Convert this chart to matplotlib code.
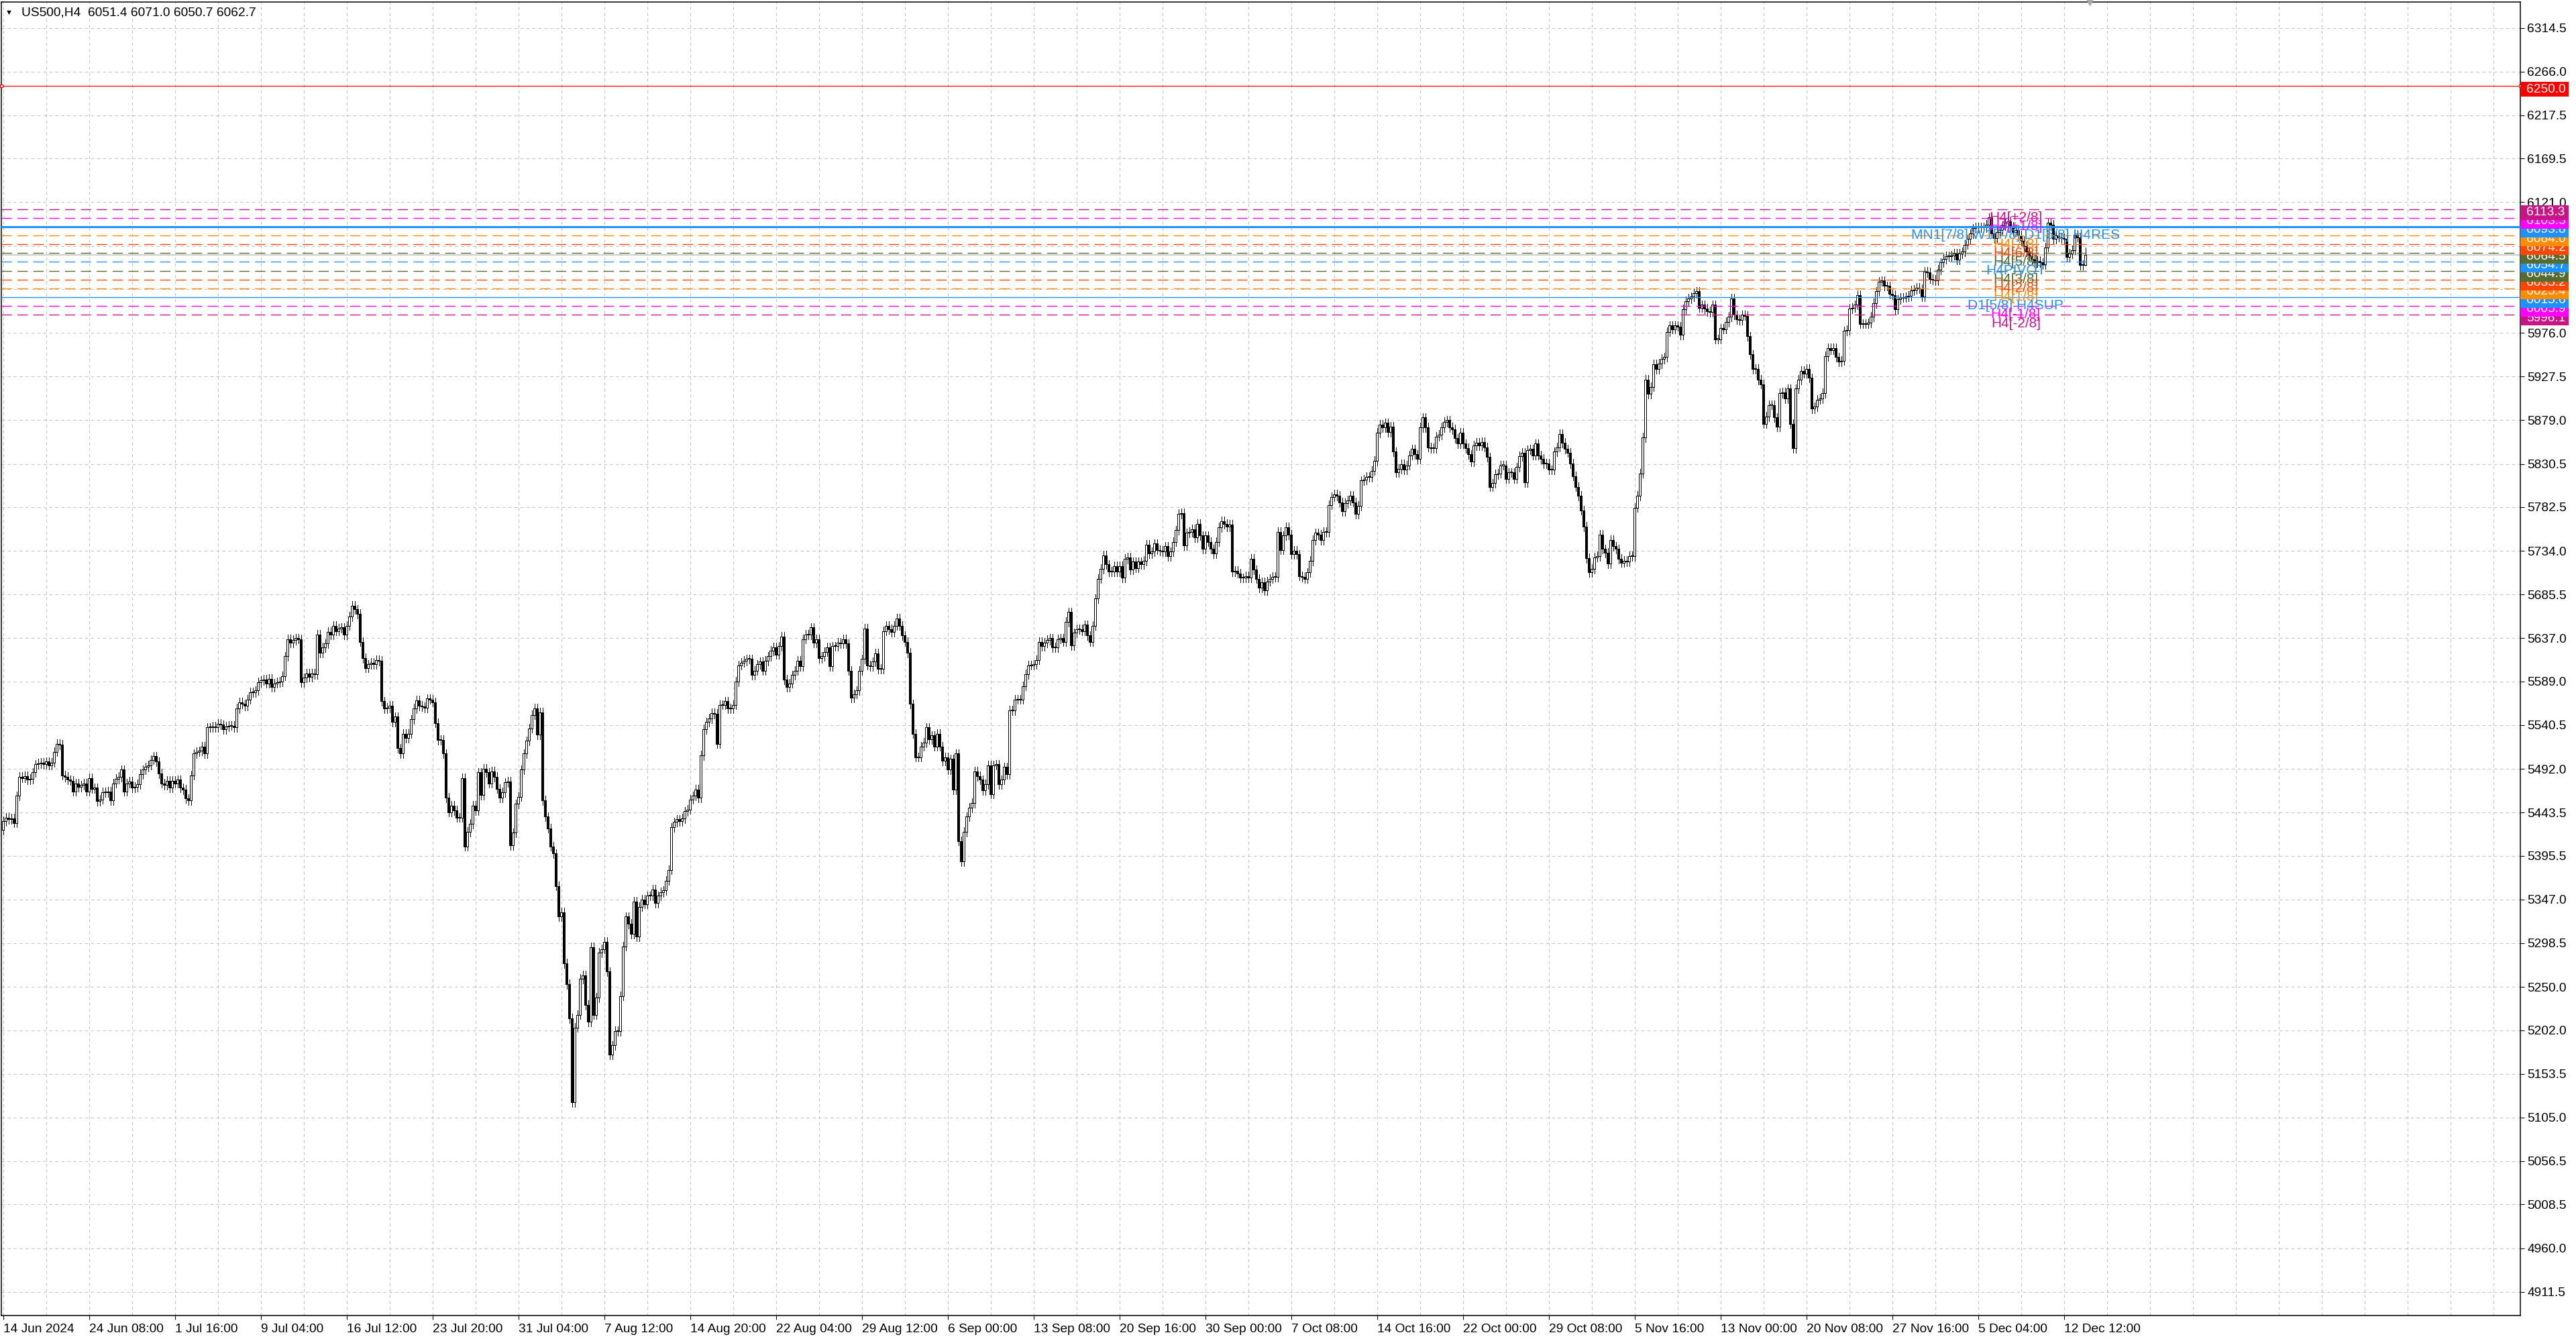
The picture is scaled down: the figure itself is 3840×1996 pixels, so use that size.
import matplotlib
matplotlib.use("Agg")
import matplotlib.pyplot as plt
import matplotlib.transforms as mtrans
from matplotlib.patches import Rectangle
from matplotlib.ticker import MultipleLocator
import numpy as np

# header of the chart
symbol = "US500,H4"
last_ohlc = [6051.4, 6071.0, 6050.7, 6062.7]
first_open = 5424.0

# H4 closes (14 Jun 2024 -> 13 Dec 2024)
closes = [
    5434, 5438, 5436, 5437, 5432, 5462, 5483, 5482, 5484, 5480, 5481, 5488, 5497, 5498, 5499, 5497,
    5500, 5496, 5499, 5511, 5520, 5519, 5485, 5483, 5480, 5479, 5467, 5476, 5472, 5474, 5476, 5467,
    5482, 5470, 5471, 5456, 5458, 5466, 5466, 5467, 5457, 5476, 5481, 5483, 5491, 5467, 5476, 5478,
    5471, 5472, 5475, 5486, 5491, 5494, 5496, 5502, 5506, 5500, 5487, 5476, 5474, 5479, 5471, 5479,
    5476, 5480, 5471, 5469, 5459, 5457, 5485, 5509, 5511, 5512, 5517, 5509, 5538, 5538, 5539, 5538,
    5542, 5541, 5536, 5539, 5540, 5540, 5538, 5559, 5566, 5564, 5562, 5569, 5577, 5577, 5579, 5588,
    5590, 5591, 5587, 5592, 5583, 5587, 5588, 5589, 5595, 5617, 5636, 5632, 5635, 5637, 5636, 5588,
    5593, 5598, 5594, 5598, 5597, 5641, 5621, 5627, 5631, 5644, 5641, 5651, 5645, 5648, 5649, 5641,
    5651, 5661, 5673, 5669, 5664, 5633, 5615, 5604, 5608, 5610, 5608, 5613, 5612, 5567, 5559, 5560,
    5562, 5544, 5550, 5515, 5509, 5531, 5526, 5531, 5547, 5559, 5568, 5562, 5561, 5560, 5570, 5569,
    5566, 5543, 5524, 5524, 5509, 5460, 5444, 5451, 5446, 5438, 5438, 5482, 5406, 5422, 5431, 5451,
    5446, 5488, 5463, 5492, 5488, 5476, 5489, 5483, 5470, 5460, 5466, 5477, 5478, 5407, 5421, 5453,
    5461, 5491, 5509, 5523, 5537, 5552, 5559, 5530, 5555, 5457, 5439, 5426, 5406, 5398, 5362, 5328,
    5333, 5276, 5253, 5215, 5122, 5205, 5219, 5259, 5263, 5230, 5211, 5294, 5219, 5238, 5288, 5292,
    5300, 5267, 5175, 5185, 5201, 5201, 5240, 5295, 5328, 5320, 5309, 5345, 5306, 5339, 5347, 5342,
    5351, 5351, 5358, 5343, 5351, 5355, 5357, 5368, 5380, 5427, 5433, 5436, 5434, 5437, 5445, 5447,
    5458, 5462, 5469, 5460, 5507, 5536, 5544, 5548, 5554, 5553, 5520, 5563, 5563, 5567, 5559, 5559,
    5563, 5589, 5607, 5610, 5612, 5614, 5614, 5596, 5601, 5608, 5611, 5601, 5612, 5617, 5623, 5627,
    5619, 5628, 5639, 5591, 5583, 5587, 5596, 5601, 5612, 5606, 5636, 5641, 5641, 5649, 5632, 5636,
    5615, 5617, 5622, 5627, 5606, 5628, 5628, 5632, 5631, 5636, 5631, 5601, 5571, 5575, 5579, 5601,
    5614, 5648, 5607, 5606, 5611, 5620, 5603, 5603, 5645, 5651, 5647, 5644, 5651, 5659, 5651, 5640,
    5633, 5621, 5564, 5531, 5505, 5505, 5517, 5521, 5538, 5525, 5529, 5517, 5531, 5517, 5501, 5505,
    5491, 5503, 5469, 5509, 5412, 5389, 5422, 5439, 5449, 5454, 5489, 5484, 5480, 5468, 5475, 5496,
    5464, 5496, 5497, 5475, 5480, 5494, 5486, 5557, 5557, 5569, 5569, 5569, 5584, 5597, 5607, 5607,
    5608, 5613, 5633, 5628, 5632, 5635, 5637, 5627, 5627, 5636, 5637, 5633, 5655, 5666, 5629, 5643,
    5647, 5647, 5645, 5652, 5640, 5633, 5651, 5681, 5703, 5714, 5729, 5719, 5711, 5711, 5717, 5711,
    5717, 5704, 5725, 5727, 5713, 5722, 5715, 5722, 5719, 5723, 5741, 5731, 5733, 5742, 5735, 5734,
    5733, 5739, 5728, 5733, 5744, 5757, 5775, 5776, 5740, 5754, 5755, 5758, 5749, 5764, 5751, 5736,
    5751, 5744, 5736, 5731, 5744, 5760, 5767, 5764, 5761, 5763, 5711, 5712, 5709, 5704, 5704, 5706,
    5704, 5725, 5713, 5703, 5693, 5699, 5690, 5700, 5703, 5705, 5705, 5755, 5735, 5751, 5760, 5752,
    5730, 5734, 5730, 5706, 5705, 5703, 5710, 5723, 5746, 5754, 5752, 5746, 5755, 5755, 5785, 5794,
    5797, 5795, 5788, 5778, 5787, 5790, 5795, 5788, 5775, 5784, 5812, 5813, 5816, 5816, 5823, 5834,
    5865, 5874, 5871, 5876, 5866, 5872, 5844, 5821, 5825, 5830, 5824, 5829, 5840, 5847, 5841, 5836,
    5871, 5882, 5871, 5849, 5848, 5848, 5861, 5863, 5871, 5877, 5879, 5871, 5869, 5859, 5853, 5865,
    5853, 5848, 5841, 5833, 5851, 5854, 5851, 5855, 5849, 5838, 5805, 5809, 5819, 5820, 5829, 5829,
    5814, 5821, 5821, 5814, 5827, 5839, 5843, 5810, 5846, 5847, 5840, 5853, 5840, 5836, 5831, 5831,
    5824, 5824, 5844, 5849, 5864, 5854, 5847, 5843, 5831, 5817, 5805, 5795, 5779, 5761, 5726, 5710,
    5714, 5727, 5728, 5752, 5736, 5732, 5720, 5746, 5739, 5736, 5725, 5721, 5723, 5722, 5728, 5728,
    5782, 5795, 5820, 5860, 5924, 5908, 5916, 5941, 5936, 5942, 5947, 5949, 5977, 5984, 5980, 5984,
    5983, 5974, 6002, 6011, 6014, 6016, 6020, 6022, 6004, 6007, 6003, 6000, 5999, 6007, 5969, 5969,
    5981, 5980, 5988, 5994, 6014, 5996, 5991, 5990, 5996, 5995, 5972, 5952, 5936, 5936, 5924, 5919,
    5875, 5883, 5896, 5896, 5882, 5872, 5909, 5910, 5903, 5914, 5875, 5848, 5914, 5924, 5934, 5931,
    5936, 5926, 5892, 5894, 5902, 5903, 5909, 5950, 5959, 5957, 5959, 5949, 5944, 5945, 5978, 5979,
    6003, 6004, 6007, 6018, 5986, 5986, 5986, 5987, 5994, 6009, 6022, 6033, 6034, 6028, 6028, 6019,
    6018, 6002, 6013, 6015, 6015, 6016, 6017, 6023, 6024, 6026, 6025, 6016, 6044, 6043, 6036, 6035,
    6034, 6046, 6054, 6058, 6061, 6061, 6062, 6064, 6057, 6064, 6066, 6074, 6080, 6086, 6092, 6093,
    6093, 6093, 6093, 6096, 6104, 6086, 6081, 6088, 6090, 6095, 6098, 6100, 6094, 6088, 6090, 6084,
    6078, 6072, 6066, 6062, 6058, 6054, 6056, 6054, 6052, 6071, 6098, 6096, 6080, 6084, 6082, 6081,
    6080, 6060, 6064, 6068, 6085, 6082, 6051, 6051.4, 6062.7,
]

# time axis labels, one every 32 bars
x_labels = ["14 Jun 2024", "24 Jun 08:00", "1 Jul 16:00", "9 Jul 04:00", "16 Jul 12:00",
            "23 Jul 20:00", "31 Jul 04:00", "7 Aug 12:00", "14 Aug 20:00", "22 Aug 04:00",
            "29 Aug 12:00", "6 Sep 00:00", "13 Sep 08:00", "20 Sep 16:00", "30 Sep 00:00",
            "7 Oct 08:00", "14 Oct 16:00", "22 Oct 00:00", "29 Oct 08:00", "5 Nov 16:00",
            "13 Nov 00:00", "20 Nov 08:00", "27 Nov 16:00", "5 Dec 04:00", "12 Dec 12:00"]
label_step = 32

y_ticks = [6314.5, 6266.0, 6217.5, 6169.5, 6121.0, 6072.5, 6024.5, 5976.0, 5927.5, 5879.0,
           5830.5, 5782.5, 5734.0, 5685.5, 5637.0, 5589.0, 5540.5, 5492.0, 5443.5, 5395.5,
           5347.0, 5298.5, 5250.0, 5202.0, 5153.5, 5105.0, 5056.5, 5008.5, 4960.0, 4911.5]

# murrey math levels
level_names = ["H4[+2/8]", "H4[+1/8]", "MN1[7/8] W1[7/8] D1[6/8] H4RES", "H4[7/8]", "H4[6/8]",
               "H4[5/8]", "H4PIVOT", "H4[3/8]", "H4[2/8]", "H4[1/8]", "D1[5/8] H4SUP",
               "H4[-1/8]", "H4[-2/8]"]
level_values = [6113.3, 6103.5, 6093.8, 6084.0, 6074.2, 6064.5, 6054.7, 6044.9, 6035.2,
                6025.4, 6015.6, 6005.9, 5996.1]
level_colors = ["#C71585", "#FF00FF", "#1E90FF", "#FF8C00", "#FF4500", "#556B2F", "#1E90FF",
                "#556B2F", "#FF4500", "#FF8C00", "#1E90FF", "#FF00FF", "#C71585"]
level_kinds = ["dash", "dash", "thick", "dash", "dash", "dash", "dash", "dash", "dash", "dash",
               "thin", "dash", "dash"]
label_bar = 750

alert_price = 6250.0

W, H = 3840, 1996
WICK = 5.0   # shadow length drawn past the body
PX = 1.343   # pixels per price point

plt.rcParams['font.family'] = ['Liberation Sans', 'DejaVu Sans']
fs = 13.8

fig = plt.figure(figsize=(W / 100, H / 100), dpi=100)
ax = fig.add_axes([2 / W, 35 / H, 3755 / W, 1958 / H])
ax.set_xlim(-0.7, -0.7 + 3755 / 4.0)
ax.set_ylim(4885.2, 6343.2)

c = np.array(closes, dtype=float)
o = np.concatenate([[first_open], c[:-1]])
hi = np.maximum(o, c) + WICK
lo = np.minimum(o, c) - WICK
hi[-1] = last_ohlc[1]
lo[-1] = last_ohlc[2]
idx = np.arange(len(c))
up = c >= o
body_lo = np.minimum(o, c)
body_h = np.maximum(np.abs(c - o), 0.8)

# candles, crisp pixels like the terminal
ax.vlines(idx, lo, hi, color='black', lw=0.72, zorder=2, antialiased=False)
ax.bar(idx[up], body_h[up], bottom=body_lo[up], width=0.72, facecolor='white',
       edgecolor='black', lw=0.72, zorder=3, antialiased=False)
ax.bar(idx[~up], body_h[~up], bottom=body_lo[~up], width=0.72, facecolor='black',
       edgecolor='black', lw=0.72, zorder=3, antialiased=False)

# grid + axes
ax.set_xticks(np.arange(len(x_labels)) * label_step)
ax.set_xticklabels(x_labels, ha='left', fontsize=fs)
ax.xaxis.set_minor_locator(MultipleLocator(16))
ax.yaxis.tick_right()
ax.set_yticks(y_ticks)
ax.set_yticklabels(["%.1f" % v for v in y_ticks], fontsize=fs)
grid_kw = dict(color='#c4c4c4', ls=(0, (4, 4)), lw=0.8)
ax.grid(True, which='both', axis='x', **grid_kw)
ax.grid(True, which='major', axis='y', **grid_kw)
ax.set_axisbelow(True)
ax.tick_params(axis='x', which='major', length=4, width=0.8, pad=5)
ax.tick_params(axis='x', which='minor', length=0)
ax.tick_params(axis='y', length=4, width=0.8, pad=3.5)
for sp in ax.spines.values():
    sp.set_color('black')
    sp.set_linewidth(1.1)

# bid line and alert line
ax.axhline(last_ohlc[3], color='#c0c0c0', lw=1.1, zorder=1.5)
ax.axhline(alert_price, color='red', lw=0.9, zorder=4)
ax.plot(ax.get_xlim(), [alert_price, alert_price], 's', ms=3.5, mfc='white', mec='red',
        mew=0.8, clip_on=False, zorder=5)

# levels and their labels
for name, v, col, kind in zip(level_names, level_values, level_colors, level_kinds):
    if kind == "thick":
        ax.axhline(v, color=col, lw=2.2, zorder=4)
    elif kind == "thin":
        ax.axhline(v, color=col, lw=1.0, zorder=4)
    else:
        ax.axhline(v, color=col, lw=1.0, ls=(0, (11, 6)), zorder=4)
    ax.annotate(name, xy=(label_bar, v), xytext=(0, -2.5), textcoords='offset points',
                ha='center', va='top', color=col, fontsize=15, zorder=6)

# price tags on the right scale (box sits a little below its price)
tr = mtrans.blended_transform_factory(ax.transAxes, ax.transData)
tag_w = 72 / 3755
tag_top = 6 / PX
tag_h = 22 / PX
tags = sorted(zip(level_values, level_colors)) + [(alert_price, 'red')]
for k, (v, col) in enumerate(tags):
    ax.add_patch(Rectangle((1.0, v + tag_top - tag_h), tag_w, tag_h, transform=tr,
                           facecolor=col, edgecolor='none', clip_on=False, zorder=10 + k))
    ax.text(1.0 + 9 / 3755, v + tag_top - tag_h / 2, "%.1f" % v, transform=tr, va='center',
            ha='left', color='white', fontsize=fs, clip_on=False, zorder=10.5 + k)

# header top-left
ax.text(6 / 3755, 1 - 16 / 1958, "\u25bc", transform=ax.transAxes, va='center',
        ha='left', fontsize=8, color='black')
ax.text(30 / 3755, 1 - 16 / 1958, "%s  %.1f %.1f %.1f %.1f" % (symbol, *last_ohlc),
        transform=ax.transAxes, va='center', ha='left', fontsize=fs, color='black')

# chart shift marker
ax.plot([777.5], [1.0], 'v', ms=7, color='#a8a8a8',
        transform=mtrans.blended_transform_factory(ax.transData, ax.transAxes),
        clip_on=False, zorder=12)

fig.savefig("out.png", dpi=100, facecolor='white')
